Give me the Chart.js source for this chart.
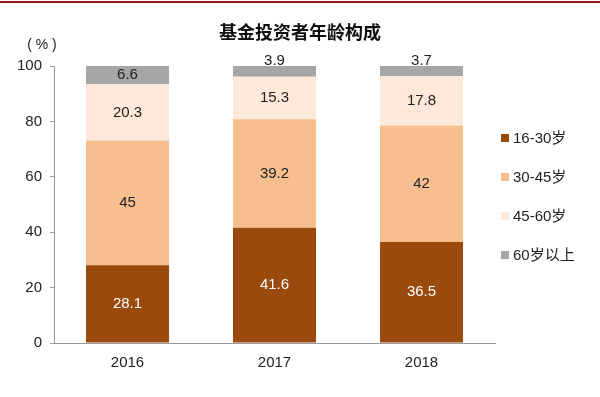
<!DOCTYPE html>
<html><head><meta charset="utf-8">
<script src="https://cdn.jsdelivr.net/npm/chart.js@4"></script>
<style>html,body{margin:0;padding:0;background:#fff}#wrap{width:600px;height:397px;position:relative}</style>
</head><body><div id="wrap"><canvas id="c" width="600" height="397"></canvas></div>
<script>
const categories = ['2016', '2017', '2018'];
const seriesNames = ['16-30岁', '30-45岁', '45-60岁', '60岁以上'];
const age16to30 = [28.1, 41.6, 36.5];
const age30to45 = [45, 39.2, 42];
const age45to60 = [20.3, 15.3, 17.8];
const age60plus = [6.6, 3.9, 3.7];
const yTicks = [0, 20, 40, 60, 80, 100];
const titleText = '基金投资者年龄构成';
const colors = ['#9A4A0C', '#F7BE8F', '#FDE8D9', '#A6A6A6'];
const labelColors = ['#ffffff', '#222222', '#222222', '#222222'];

const labelPlugin = {
  id: 'segLabels',
  afterDatasetsDraw(chart) {
    const ctx = chart.ctx;
    ctx.save();
    ctx.font = '15px "Liberation Sans", Arial, sans-serif';
    ctx.textAlign = 'center';
    chart.data.datasets.forEach((ds, i) => {
      const meta = chart.getDatasetMeta(i);
      meta.data.forEach((bar, j) => {
        const v = ds.data[j];
        ctx.fillStyle = labelColors[i];
        if (v < 5) {
          ctx.textBaseline = 'bottom';
          ctx.fillText(String(v), bar.x, Math.min(bar.y, bar.base) + 2);
        } else {
          ctx.textBaseline = 'middle';
          ctx.fillText(String(v), bar.x, (bar.y + bar.base) / 2);
        }
      });
    });
    const area = chart.chartArea;
    // title
    ctx.fillStyle = '#111';
    ctx.textBaseline = 'middle';
    ctx.font = 'bold 18px "Noto Sans CJK SC", sans-serif';
    ctx.fillText(titleText, chart.width / 2, 32);
    // (%) label
    ctx.fillStyle = '#222';
    ctx.font = '14px "Liberation Sans", Arial, sans-serif';
    ctx.fillText('( % )', 42, area.top - 21);
    // legend
    ctx.textAlign = 'left';
    ctx.font = '15px "Liberation Sans", "Noto Sans CJK SC", sans-serif';
    chart.data.datasets.forEach((ds, i) => {
      const cy = 138 + i * 39;
      ctx.fillStyle = ds.backgroundColor;
      ctx.fillRect(area.right + 6, cy - 4, 8, 8);
      ctx.fillStyle = '#222';
      ctx.fillText(ds.label, area.right + 18, cy + 1);
    });
    // top red line
    ctx.strokeStyle = '#8B1A1A';
    ctx.lineWidth = 2;
    ctx.beginPath(); ctx.moveTo(0, 2); ctx.lineTo(600, 2); ctx.stroke();
    ctx.restore();
  }
};

const datasets = [age16to30, age30to45, age45to60, age60plus].map((d, i) => ({
  label: seriesNames[i], data: d, backgroundColor: colors[i],
  categoryPercentage: 0.565, barPercentage: 1.0
}));

new Chart(document.getElementById('c'), {
  type: 'bar',
  data: { labels: categories, datasets },
  options: {
    responsive: false, animation: false,
    layout: { padding: { left: 9, right: 105, top: 66, bottom: 14 } },
    plugins: {
      title: { display: false },
      legend: { display: false },
      tooltip: { enabled: false }
    },
    scales: {
      x: { stacked: true,
        grid: { display: false, drawTicks: false },
        border: { color: '#999' },
        ticks: { color: '#222', padding: 11, font: { family: '"Liberation Sans", Arial', size: 15 } } },
      y: { stacked: true, min: 0, max: 100,
        afterBuildTicks(s) { s.ticks = yTicks.map(v => ({ value: v })); },
        grid: { drawOnChartArea: false, tickLength: 4, color: '#999' },
        border: { color: '#999' },
        ticks: { color: '#222', padding: 8, font: { family: '"Liberation Sans", Arial', size: 15 } } }
    }
  },
  plugins: [labelPlugin]
});
</script></body></html>
